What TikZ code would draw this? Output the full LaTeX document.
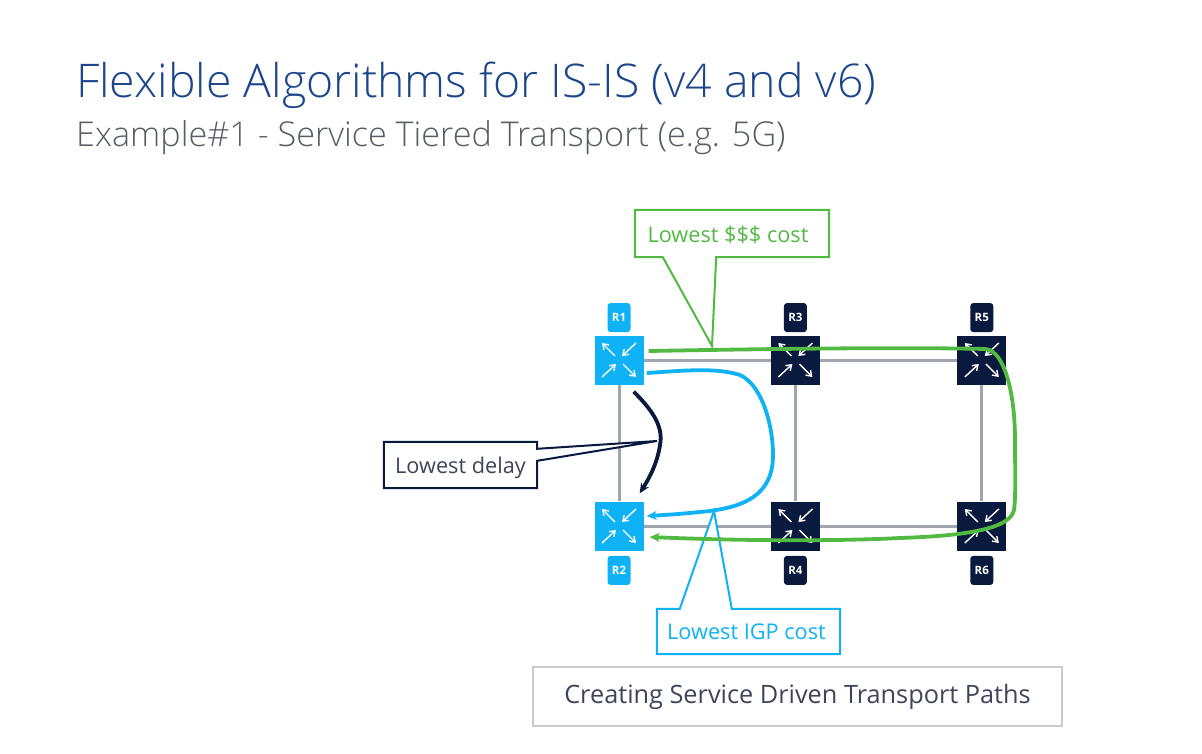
\documentclass[tikz,border=0pt]{standalone}
\usepackage{fontspec}
\setmainfont{Open Sans}
\newfontfamily\lightfont{Open Sans Light}
\usetikzlibrary{arrows.meta, positioning, backgrounds}

\definecolor{titlecolor}{RGB}{28,70,140}
\definecolor{subcolor}{RGB}{88,92,102}
\definecolor{labelcolor}{RGB}{62,68,90}
\definecolor{navycolor}{RGB}{10,26,62}
\definecolor{skycolor}{RGB}{14,178,245}
\definecolor{greencolor}{RGB}{82,186,66}
\definecolor{linkcolor}{RGB}{160,165,176}
\definecolor{framecolor}{RGB}{200,204,210}

\tikzset{
  routerbox/.style={rectangle, fill=#1, minimum width=49pt, minimum height=49pt, inner sep=0pt},
  routertag/.style={rectangle, rounded corners=3pt, fill=#1, text=white, minimum width=23pt, minimum height=29pt, inner sep=0pt, font=\fontsize{11.5}{13}\selectfont\bfseries},
  routerarrow/.style={-{Straight Barb[length=5pt, width=7pt]}, white, line width=1.4pt},
  link/.style={linkcolor, line width=3pt},
  pathline/.style={-{Stealth[length=10pt, width=9pt]}, line width=3.8pt},
  calloutbox/.style={rectangle, inner sep=0pt, align=center, font=\fontsize{21.7}{25}\selectfont},
  calloutline/.style={draw=#1, line width=2pt, fill=white},
}

\begin{document}
\begin{tikzpicture}[x=1pt, y=-1pt]
  \useasboundingbox (0,0) rectangle (1202,754);

  % Heading
  \node[anchor=west, inner sep=0pt, text=titlecolor, font=\lightfont\fontsize{46.4}{52}\selectfont] (title) at (76,85) {Flexible Algorithms for IS-IS (v4 and v6)};
  \node[anchor=west, inner sep=0pt, text=subcolor, font=\lightfont\fontsize{34.2}{40}\selectfont] (subtitle) at (76,138) {Example\#1 - Service Tiered Transport (e.g. 5G)};

  % Routers
  \node[routerbox=skycolor] (r1) at (619,360) {};
  \node[routerbox=navycolor, right=127pt of r1] (r3) {};
  \node[routerbox=navycolor, right=137pt of r3] (r5) {};
  \node[routerbox=skycolor] (r2) at (619,526) {};
  \node[routerbox=navycolor, right=127pt of r2] (r4) {};
  \node[routerbox=navycolor, right=137pt of r4] (r6) {};

  % Router tags
  \node[routertag=skycolor, above=3pt of r1] (t1) {R1};
  \node[routertag=navycolor, above=3pt of r3] (t3) {R3};
  \node[routertag=navycolor, above=3pt of r5] (t5) {R5};
  \node[routertag=skycolor, below=5pt of r2] (t2) {R2};
  \node[routertag=navycolor, below=5pt of r4] (t4) {R4};
  \node[routertag=navycolor, below=5pt of r6] (t6) {R6};

  % Four arrows in every router
  \foreach \r in {r1,r2,r3,r4,r5,r6} {
    \draw[routerarrow] ([shift={(-4,-4)}]\r.center) -- ([shift={(-17,-17)}]\r.center);
    \draw[routerarrow] ([shift={(17,-17)}]\r.center) -- ([shift={(3,-4)}]\r.center);
    \draw[routerarrow] ([shift={(-17,17)}]\r.center) -- ([shift={(-3,4)}]\r.center);
    \draw[routerarrow] ([shift={(4,4)}]\r.center) -- ([shift={(17,17)}]\r.center);
  }

  % Links behind the routers
  \begin{scope}[on background layer]
    \draw[link] (r1) -- (r3);
    \draw[link] (r3) -- (r5);
    \draw[link] (r2) -- (r4);
    \draw[link] (r4) -- (r6);
    \draw[link] (r1) -- (r2);
    \draw[link] (r3) -- (r4);
    \draw[link] (r5) -- (r6);
  \end{scope}

  % Callouts
  \node[calloutbox, minimum width=194pt, minimum height=47pt] (cost) at (732,233.5) {};
  \coordinate (costtip) at (712,346);
  \draw[calloutline=greencolor] (cost.north west) -- (cost.north east) -- (cost.south east) -- ([xshift=-113pt]cost.south east) -- (costtip) -- ([xshift=28pt]cost.south west) -- (cost.south west) -- cycle;
  \node[calloutbox, text=greencolor, xshift=-4pt, yshift=-1.5pt] (costtext) at (cost) {Lowest \$\$\$ cost};

  \node[calloutbox, minimum width=183pt, minimum height=45pt] (igp) at (748.5,631.5) {};
  \coordinate (igptip) at (714,511);
  \draw[calloutline=skycolor] (igp.north west) -- ([xshift=23pt]igp.north west) -- (igptip) -- ([xshift=75pt]igp.north west) -- (igp.north east) -- (igp.south east) -- (igp.south west) -- cycle;
  \node[calloutbox, text=skycolor, xshift=-2pt] (igptext) at (igp) {Lowest IGP cost};

  \node[calloutbox, minimum width=153pt, minimum height=46pt] (delay) at (460.5,465) {};
  \coordinate (delaytip) at (657,441);
  \draw[calloutline=navycolor] (delay.north west) -- (delay.north east) -- ([yshift=-7pt]delay.north east) -- (delaytip) -- ([yshift=-19pt]delay.north east) -- (delay.south east) -- (delay.south west) -- cycle;
  \node[calloutbox, text=labelcolor, yshift=-3pt] (delaytext) at (delay) {Lowest delay};

  % Bottom banner
  \node[rectangle, draw=framecolor, line width=1.5pt, minimum width=529pt, minimum height=59pt, inner sep=0pt, text=labelcolor, font=\fontsize{25.3}{29}\selectfont] (banner) at (797.5,696.5) {Creating Service Driven Transport Paths};

  % Paths
  \draw[pathline, navycolor] ([shift={(-10,7)}]r1.south east) .. controls (650,408) and (664,425) .. (660,445) .. controls (657,465) and (648,480) .. ([shift={(-4,-8)}]r2.north east);
  \draw[pathline, skycolor] ([shift={(3,13)}]r1.east) .. controls (680,371) and (715,367) .. (740,375) .. controls (762,385) and (773,425) .. (773,455) .. controls (773,495) and (745,508) .. (700,512) .. controls (680,514) and (665,515) .. ([shift={(3,-10)}]r2.east);
  \draw[pathline, greencolor] ([shift={(5,-9)}]r1.east) .. controls (760,349) and (900,347) .. (985,349) .. controls (1005,350) and (1015,395) .. (1015,440) .. controls (1015,470) and (1016,495) .. (1014,510) .. controls (1010,530) and (960,536) .. (900,538) .. controls (820,542) and (720,540) .. ([shift={(6,11)}]r2.east);
\end{tikzpicture}
\end{document}
